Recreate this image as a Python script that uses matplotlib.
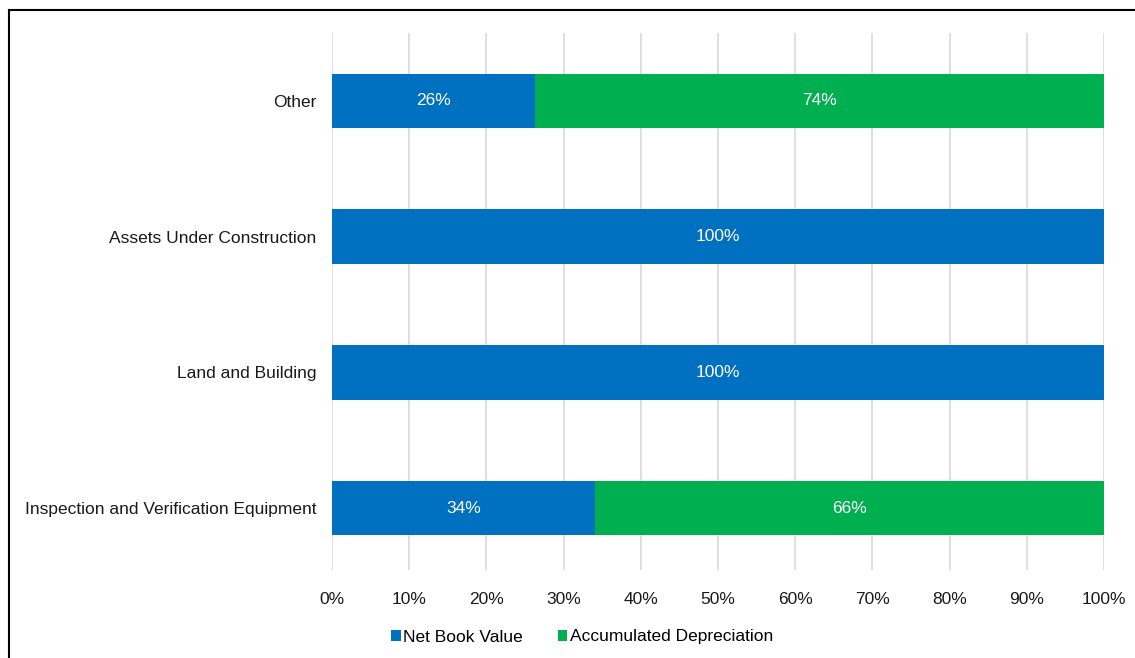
import matplotlib
matplotlib.use("Agg")
import matplotlib.pyplot as plt
from matplotlib.lines import Line2D
from matplotlib.patches import Patch

categories = ["Inspection and Verification Equipment", "Land and Building",
              "Assets Under Construction", "Other"]
net_book_value = [34.1, 100.0, 100.0, 26.3]
accumulated_depreciation = [65.9, 0.0, 0.0, 73.7]
nbv_labels = ["34%", "100%", "100%", "26%"]
dep_labels = ["66%", "", "", "74%"]
x_ticks = [0, 10, 20, 30, 40, 50, 60, 70, 80, 90, 100]
series_names = ["Net Book Value", "Accumulated Depreciation"]

BLUE = "#0070C0"
GREEN = "#00B050"
FS = 12.5

plt.rcParams["font.family"] = ["Liberation Sans", "DejaVu Sans"]

fig = plt.figure(figsize=(11.35, 6.58), dpi=100)
ax = fig.add_axes([332 / 1135, 1 - 570 / 658, 772 / 1135, 537 / 658])

y = list(range(len(categories)))
ax.barh(y, net_book_value, height=0.4, color=BLUE, zorder=3)
ax.barh(y, accumulated_depreciation, left=net_book_value, height=0.4,
        color=GREEN, zorder=3)

for yi, v, d, lv, ld in zip(y, net_book_value, accumulated_depreciation,
                            nbv_labels, dep_labels):
    ax.text(v / 2, yi, lv, ha="center", va="center", color="white",
            fontsize=FS, zorder=4)
    if d > 0:
        ax.text(v + d / 2, yi, ld, ha="center", va="center", color="white",
                fontsize=FS, zorder=4)

ax.set_xlim(0, 100)
ax.set_ylim(-0.456, 3.5)
ax.set_xticks(x_ticks)
ax.set_xticklabels([f"{t}%" for t in x_ticks], fontsize=FS, color="#1a1a1a")
ax.set_yticks(y)
ax.set_yticklabels(categories, fontsize=FS, color="#1a1a1a")
ax.tick_params(axis="y", length=0, pad=11)
ax.tick_params(axis="x", length=0, pad=16)
ax.xaxis.grid(True, color="#D9D9D9", linewidth=1.2, zorder=0)
ax.set_axisbelow(True)
for s in ax.spines.values():
    s.set_visible(False)

handles = [Patch(facecolor=BLUE), Patch(facecolor=GREEN)]
fig.legend(handles, series_names, loc="center", bbox_to_anchor=(582 / 1135, 1 - 637 / 658),
           ncol=2, frameon=False, fontsize=FS, handlelength=0.55, handleheight=0.55,
           handletextpad=0.15, columnspacing=2.0, borderpad=0)

# outer frame
fig.add_artist(Line2D([9 / 1135, 9 / 1135], [0, 1 - 10 / 658], transform=fig.transFigure,
                      color="black", linewidth=1.5))
fig.add_artist(Line2D([9 / 1135, 1], [1 - 10 / 658, 1 - 10 / 658], transform=fig.transFigure,
                      color="black", linewidth=1.5))

fig.savefig("out.png", dpi=100)
